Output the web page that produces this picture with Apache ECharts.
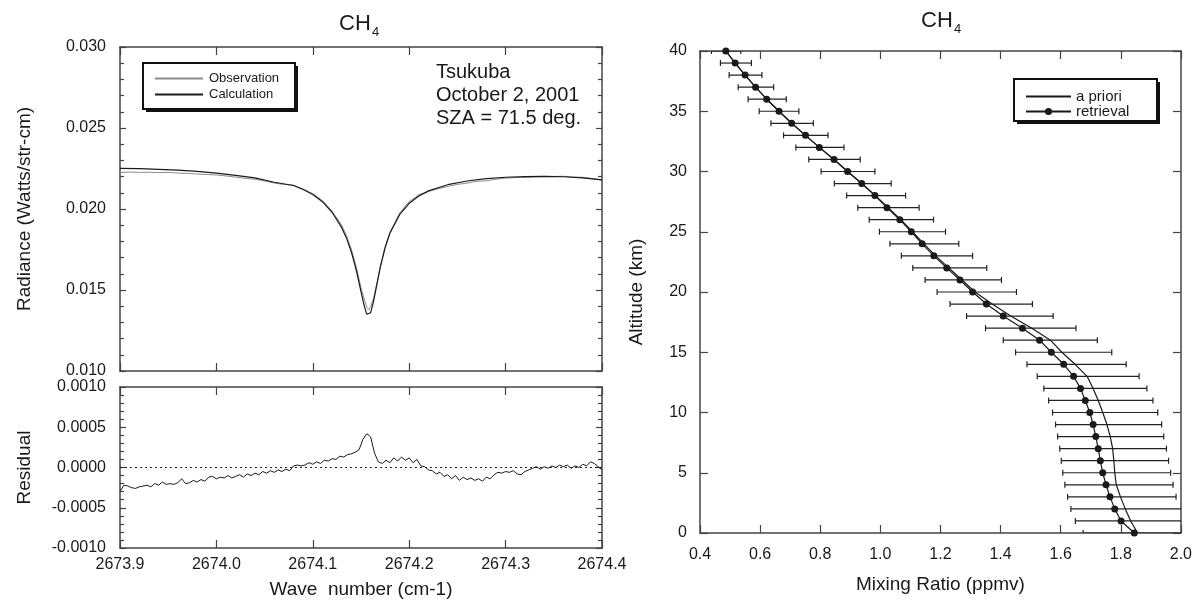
<!DOCTYPE html>
<html><head><meta charset="utf-8">
<script src="https://cdn.jsdelivr.net/npm/echarts@6/dist/echarts.min.js"></script>
<style>html,body{margin:0;padding:0;background:#fff}#c{width:1195px;height:600px}</style>
</head><body><div id="c"></div>
<script>
// ---------- Left panel: spectrum ----------
const waveTicks = [2673.9, 2674.0, 2674.1, 2674.2, 2674.3, 2674.4];
const calculation = [
 [2673.90,0.02251],[2673.92,0.02249],[2673.94,0.02245],[2673.96,0.02240],[2673.98,0.02232],
 [2674.00,0.02222],[2674.02,0.02208],[2674.04,0.02192],[2674.06,0.02165],[2674.08,0.02145],
 [2674.09,0.02120],[2674.10,0.02090],[2674.11,0.02045],[2674.12,0.01980],[2674.13,0.01885],
 [2674.135,0.01820],[2674.14,0.01735],[2674.145,0.01625],[2674.15,0.01490],[2674.153,0.01410],
 [2674.156,0.01350],[2674.158,0.01340],[2674.160,0.01360],[2674.163,0.01430],[2674.166,0.01520],
 [2674.17,0.01640],[2674.175,0.01760],[2674.18,0.01850],[2674.19,0.01965],[2674.20,0.02035],
 [2674.21,0.02080],[2674.22,0.02112],[2674.24,0.02150],[2674.26,0.02173],[2674.28,0.02188],
 [2674.30,0.02196],[2674.32,0.02200],[2674.34,0.02201],[2674.36,0.02199],[2674.38,0.02192],
 [2674.40,0.02180]
];
const observation = [
 [2673.90,0.02225],[2673.91,0.02228],[2673.92,0.02226],[2673.93,0.02227],[2673.94,0.02225],
 [2673.95,0.02226],[2673.96,0.02222],[2673.97,0.02220],[2673.98,0.02216],[2673.99,0.02213],
 [2674.00,0.02210],[2674.01,0.02204],[2674.02,0.02197],[2674.03,0.02189],[2674.04,0.02184],
 [2674.05,0.02173],[2674.06,0.02160],[2674.07,0.02152],[2674.08,0.02147],[2674.09,0.02123],
 [2674.10,0.02095],[2674.11,0.02052],[2674.12,0.01986],[2674.13,0.01900],[2674.135,0.01835],
 [2674.14,0.01752],[2674.145,0.01645],[2674.15,0.01515],[2674.153,0.01450],[2674.156,0.01392],
 [2674.158,0.01378],[2674.160,0.01396],[2674.163,0.01448],[2674.166,0.01528],[2674.17,0.01646],
 [2674.175,0.01768],[2674.18,0.01856],[2674.19,0.01975],[2674.20,0.02046],[2674.21,0.02088],
 [2674.22,0.02108],[2674.23,0.02125],[2674.24,0.02139],[2674.25,0.02152],[2674.26,0.02160],
 [2674.27,0.02171],[2674.28,0.02174],[2674.29,0.02184],[2674.30,0.02190],[2674.31,0.02194],
 [2674.32,0.02195],[2674.33,0.02199],[2674.34,0.02201],[2674.35,0.02201],[2674.36,0.02202],
 [2674.37,0.02197],[2674.38,0.02196],[2674.39,0.02188],[2674.40,0.02178]
];
const residual = [
 [2673.900,-0.00030],[2673.904,-0.00022],[2673.908,-0.00023],[2673.912,-0.00025],[2673.916,-0.00026],[2673.920,-0.00024],
 [2673.924,-0.00023],[2673.928,-0.00022],[2673.932,-0.00024],[2673.936,-0.00020],[2673.940,-0.00022],[2673.944,-0.00018],
 [2673.948,-0.00021],[2673.952,-0.00020],[2673.956,-0.00021],[2673.960,-0.00019],[2673.964,-0.00014],[2673.968,-0.00020],
 [2673.972,-0.00019],[2673.976,-0.00016],[2673.980,-0.00018],[2673.984,-0.00015],[2673.988,-0.00017],[2673.992,-0.00012],
 [2673.996,-0.00011],[2674.000,-0.00014],[2674.004,-0.00012],[2674.008,-0.00013],[2674.012,-0.00010],[2674.016,-0.00013],
 [2674.020,-0.00011],[2674.024,-0.00009],[2674.028,-0.00012],[2674.032,-0.00008],[2674.036,-0.00010],[2674.040,-0.00007],
 [2674.044,-0.00009],[2674.048,-0.00005],[2674.052,-0.00007],[2674.056,-0.00004],[2674.060,-0.00006],[2674.064,-0.00003],
 [2674.068,-0.00005],[2674.072,-0.00002],[2674.076,-0.00004],[2674.080,0.00002],[2674.084,0.00003],[2674.088,0.00002],
 [2674.092,0.00003],[2674.096,0.00006],[2674.100,0.00004],[2674.104,0.00007],[2674.108,0.00005],[2674.112,0.00009],
 [2674.116,0.00008],[2674.120,0.00011],[2674.124,0.00010],[2674.128,0.00014],[2674.132,0.00013],[2674.136,0.00016],
 [2674.140,0.00017],[2674.144,0.00019],[2674.148,0.00022],[2674.152,0.00035],[2674.156,0.00042],[2674.160,0.00038],
 [2674.164,0.00018],[2674.168,0.00007],[2674.172,0.00005],[2674.176,0.00009],[2674.180,0.00006],[2674.184,0.00012],
 [2674.188,0.00008],[2674.192,0.00013],[2674.196,0.00009],[2674.200,0.00012],[2674.204,0.00006],[2674.208,0.00010],
 [2674.212,0.00002],[2674.216,0.00001],[2674.220,-0.00003],[2674.224,-0.00004],[2674.228,-0.00008],[2674.232,-0.00006],
 [2674.236,-0.00011],[2674.240,-0.00009],[2674.244,-0.00014],[2674.248,-0.00010],[2674.252,-0.00016],[2674.256,-0.00012],
 [2674.260,-0.00015],[2674.264,-0.00013],[2674.268,-0.00016],[2674.272,-0.00014],[2674.276,-0.00017],[2674.280,-0.00012],
 [2674.284,-0.00014],[2674.288,-0.00009],[2674.292,-0.00006],[2674.296,-0.00007],[2674.300,-0.00005],[2674.304,-0.00006],
 [2674.308,-0.00004],[2674.312,-0.00008],[2674.316,-0.00009],[2674.320,-0.00005],[2674.324,-0.00003],[2674.328,-0.00001],
 [2674.332,0.00001],[2674.336,-0.00002],[2674.340,0.00001],[2674.344,-0.00001],[2674.348,0.00002],[2674.352,0.00000],
 [2674.356,0.00003],[2674.360,0.00001],[2674.364,0.00003],[2674.368,-0.00001],[2674.372,0.00002],[2674.376,0.00000],
 [2674.380,0.00004],[2674.384,0.00002],[2674.388,0.00007],[2674.392,0.00005],[2674.396,0.00001],[2674.400,-0.00003]
];

// ---------- Right panel: profile ----------
const altitudes = [40,39,38,37,36,35,34,33,32,31,30,29,28,27,26,25,24,23,22,21,20,19,18,17,16,15,14,13,12,11,10,9,8,7,6,5,4,3,2,1,0];
const retrieval = [0.486,0.517,0.550,0.585,0.622,0.663,0.705,0.751,0.797,0.846,0.891,0.938,0.982,1.022,1.065,1.103,1.139,1.178,1.221,1.265,1.307,1.353,1.409,1.473,1.530,1.569,1.610,1.643,1.666,1.682,1.697,1.708,1.717,1.725,1.732,1.740,1.751,1.764,1.780,1.801,1.845];
const apriori   = [0.486,0.517,0.550,0.585,0.622,0.663,0.705,0.751,0.797,0.846,0.891,0.938,0.984,1.026,1.068,1.107,1.145,1.184,1.228,1.272,1.315,1.372,1.434,1.504,1.566,1.604,1.648,1.688,1.708,1.725,1.740,1.754,1.765,1.773,1.777,1.780,1.785,1.799,1.815,1.833,1.856];
const errLow    = [0.438,0.468,0.497,0.527,0.560,0.597,0.636,0.678,0.719,0.762,0.803,0.847,0.888,0.925,0.963,0.997,1.032,1.070,1.108,1.149,1.189,1.232,1.287,1.350,1.409,1.450,1.488,1.522,1.544,1.560,1.573,1.583,1.590,1.597,1.602,1.607,1.614,1.623,1.634,1.649,1.675];
const errHigh   = [0.536,0.571,0.606,0.645,0.687,0.729,0.777,0.826,0.879,0.933,0.982,1.036,1.084,1.129,1.177,1.217,1.261,1.307,1.354,1.403,1.453,1.506,1.575,1.651,1.722,1.770,1.818,1.861,1.887,1.907,1.923,1.936,1.943,1.952,1.959,1.966,1.974,1.984,2.005,2.030,2.070];

const FONT = 'Liberation Sans, Arial, Helvetica, sans-serif';
const INK = '#1a1a1a';
const AX = '#444';

function axisBase(extra) {
  return Object.assign({
    type: 'value',
    axisLine: { show: true, onZero: false, lineStyle: { color: AX, width: 1.5 } },
    axisTick: { show: true, inside: true, length: 8, lineStyle: { color: AX, width: 1.2 } },
    splitLine: { show: false },
    axisLabel: { show: false, color: INK, fontFamily: FONT, fontSize: 16 }
  }, extra);
}
function legendBox(x, y, w, h) {
  return [
    { type: 'rect', z: 10, silent: true, shape: { x: x + 3, y: y + 3, width: w, height: h }, style: { fill: '#111' } },
    { type: 'rect', z: 11, silent: true, shape: { x: x, y: y, width: w, height: h }, style: { fill: '#fff', stroke: '#111', lineWidth: 2 } }
  ];
}
const hidden = { opacity: 0 };

const chart = echarts.init(document.getElementById('c'), null, { renderer: 'canvas' });
const option = {
  animation: false,
  backgroundColor: '#fff',
  textStyle: { fontFamily: FONT },
  grid: [
    { left: 120, top: 47, width: 482, height: 324 },
    { left: 120, top: 387, width: 482, height: 161 },
    { left: 700, top: 51, width: 487, height: 482 }
  ],
  xAxis: [
    axisBase({ gridIndex: 0, position: 'bottom', min: 2673.9, max: 2674.4, interval: 0.1 }),
    axisBase({ gridIndex: 0, position: 'top', min: 2673.9, max: 2674.4, interval: 0.1 }),
    axisBase({ gridIndex: 1, position: 'bottom', min: 2673.9, max: 2674.4, interval: 0.1,
      axisLabel: { show: true, color: INK, fontFamily: FONT, fontSize: 16, margin: 9, formatter: v => v.toFixed(1) },
      name: 'Wave  number (cm-1)', nameLocation: 'middle', nameGap: 32,
      nameTextStyle: { color: INK, fontFamily: FONT, fontSize: 19 } }),
    axisBase({ gridIndex: 1, position: 'top', min: 2673.9, max: 2674.4, interval: 0.1 }),
    axisBase({ gridIndex: 2, position: 'bottom', min: 0.4, max: 2.0, interval: 0.2,
      axisLabel: { show: true, color: INK, fontFamily: FONT, fontSize: 16, margin: 14, formatter: v => v.toFixed(1) },
      name: 'Mixing Ratio (ppmv)', nameLocation: 'middle', nameGap: 42,
      nameTextStyle: { color: INK, fontFamily: FONT, fontSize: 19 } }),
    axisBase({ gridIndex: 2, position: 'top', min: 0.4, max: 2.0, interval: 0.2 })
  ],
  yAxis: [
    axisBase({ gridIndex: 0, position: 'left', min: 0.010, max: 0.030, interval: 0.005,
      axisTick: { show: true, inside: true, length: 6, lineStyle: { color: AX, width: 1.2 } },
      minorTick: { show: true, splitNumber: 5, length: 4, lineStyle: { color: AX, width: 1.2 } },
      axisLabel: { show: true, color: INK, fontFamily: FONT, fontSize: 16, margin: 14, formatter: v => v.toFixed(3) },
      name: 'Radiance (Watts/str-cm)', nameLocation: 'middle', nameGap: 86,
      nameTextStyle: { color: INK, fontFamily: FONT, fontSize: 19 } }),
    axisBase({ gridIndex: 0, position: 'right', min: 0.010, max: 0.030, interval: 0.005,
      axisTick: { show: true, inside: true, length: 6, lineStyle: { color: AX, width: 1.2 } },
      minorTick: { show: true, splitNumber: 5, length: 4, lineStyle: { color: AX, width: 1.2 } } }),
    axisBase({ gridIndex: 1, position: 'left', min: -0.001, max: 0.001, interval: 0.0005,
      axisTick: { show: true, inside: true, length: 6, lineStyle: { color: AX, width: 1.2 } },
      minorTick: { show: true, splitNumber: 5, length: 4, lineStyle: { color: AX, width: 1.2 } },
      axisLabel: { show: true, color: INK, fontFamily: FONT, fontSize: 16, margin: 14, formatter: v => v.toFixed(4) },
      name: 'Residual', nameLocation: 'middle', nameGap: 86,
      nameTextStyle: { color: INK, fontFamily: FONT, fontSize: 19 } }),
    axisBase({ gridIndex: 1, position: 'right', min: -0.001, max: 0.001, interval: 0.0005,
      axisTick: { show: true, inside: true, length: 6, lineStyle: { color: AX, width: 1.2 } },
      minorTick: { show: true, splitNumber: 5, length: 4, lineStyle: { color: AX, width: 1.2 } } }),
    axisBase({ gridIndex: 2, position: 'left', min: 0, max: 40, interval: 5,
      axisLabel: { show: true, color: INK, fontFamily: FONT, fontSize: 16, margin: 13 },
      name: 'Altitude (km)', nameLocation: 'middle', nameGap: 54,
      nameTextStyle: { color: INK, fontFamily: FONT, fontSize: 19 } }),
    axisBase({ gridIndex: 2, position: 'right', min: 0, max: 40, interval: 5 })
  ],
  legend: [
    {
      data: [{ name: 'Observation', itemStyle: hidden }, { name: 'Calculation', itemStyle: hidden }],
      orient: 'vertical', left: 154, top: 72, z: 12,
      itemWidth: 48, itemHeight: 14, itemGap: 3, padding: 0,
      textStyle: { color: INK, fontFamily: FONT, fontSize: 13, padding: [0, 0, 0, 1] }, selectedMode: false
    },
    {
      data: [{ name: 'a priori', itemStyle: hidden }, { name: 'retrieval' }],
      orient: 'vertical', left: 1025, top: 89, z: 12,
      itemWidth: 45, itemHeight: 9, itemGap: 0, padding: 0,
      textStyle: { color: INK, fontFamily: FONT, fontSize: 15, lineHeight: 14 }, selectedMode: false
    }
  ],
  graphic: [
    ...legendBox(143, 63, 152, 46),
    ...legendBox(1014, 79, 143, 42),
    { type: 'text', x: 339, y: 24, style: { text: 'CH', fill: INK, font: '22px ' + FONT, verticalAlign: 'middle' } },
    { type: 'text', x: 372, y: 32, style: { text: '4', fill: INK, font: '13px ' + FONT, verticalAlign: 'middle' } },
    { type: 'text', x: 921, y: 21, style: { text: 'CH', fill: INK, font: '22px ' + FONT, verticalAlign: 'middle' } },
    { type: 'text', x: 954, y: 29, style: { text: '4', fill: INK, font: '13px ' + FONT, verticalAlign: 'middle' } },
    { type: 'text', x: 436, y: 72, style: { text: 'Tsukuba', fill: INK, font: '20px ' + FONT, verticalAlign: 'middle' } },
    { type: 'text', x: 436, y: 95, style: { text: 'October 2, 2001', fill: INK, font: '20px ' + FONT, verticalAlign: 'middle' } },
    { type: 'text', x: 436, y: 118, style: { text: 'SZA = 71.5 deg.', fill: INK, font: '20px ' + FONT, verticalAlign: 'middle' } }
  ],
  series: [
    { name: 'Observation', type: 'line', xAxisIndex: 0, yAxisIndex: 0, data: observation,
      symbol: 'none', lineStyle: { color: '#8c8c8c', width: 1 }, itemStyle: { color: '#8c8c8c' }, z: 2 },
    { name: 'Calculation', type: 'line', xAxisIndex: 0, yAxisIndex: 0, data: calculation,
      symbol: 'none', lineStyle: { color: INK, width: 1.2 }, itemStyle: { color: INK }, z: 3 },
    { name: 'Residual', type: 'line', xAxisIndex: 2, yAxisIndex: 2, data: residual,
      symbol: 'none', lineStyle: { color: INK, width: 1 }, itemStyle: { color: INK },
      markLine: { silent: true, symbol: 'none', label: { show: false },
        lineStyle: { color: '#222', type: [2, 3], width: 1 }, data: [{ yAxis: 0 }] } },
    { name: 'error', type: 'custom', xAxisIndex: 4, yAxisIndex: 4, clip: true, z: 1,
      data: altitudes.map((a, i) => [errLow[i], errHigh[i], a]),
      encode: { x: [0, 1], y: 2 },
      renderItem: function (params, api) {
        const y = api.value(2);
        const a = api.coord([api.value(0), y]);
        const b = api.coord([api.value(1), y]);
        const h = 3;
        const st = { stroke: '#222', lineWidth: 1.2 };
        return { type: 'group', children: [
          { type: 'line', shape: { x1: a[0], y1: a[1], x2: b[0], y2: b[1] }, style: st },
          { type: 'line', shape: { x1: a[0], y1: a[1] - h, x2: a[0], y2: a[1] + h }, style: st },
          { type: 'line', shape: { x1: b[0], y1: b[1] - h, x2: b[0], y2: b[1] + h }, style: st }
        ] };
      } },
    { name: 'a priori', type: 'line', xAxisIndex: 4, yAxisIndex: 4,
      data: altitudes.map((a, i) => [apriori[i], a]),
      symbol: 'none', lineStyle: { color: INK, width: 1.2 }, itemStyle: { color: INK }, z: 2 },
    { name: 'retrieval', type: 'line', xAxisIndex: 4, yAxisIndex: 4,
      data: altitudes.map((a, i) => [retrieval[i], a]),
      symbol: 'circle', symbolSize: 7, showAllSymbol: true,
      lineStyle: { color: INK, width: 1.2 }, itemStyle: { color: INK }, z: 3 }
  ]
};
chart.setOption(option);
</script>
</body></html>
